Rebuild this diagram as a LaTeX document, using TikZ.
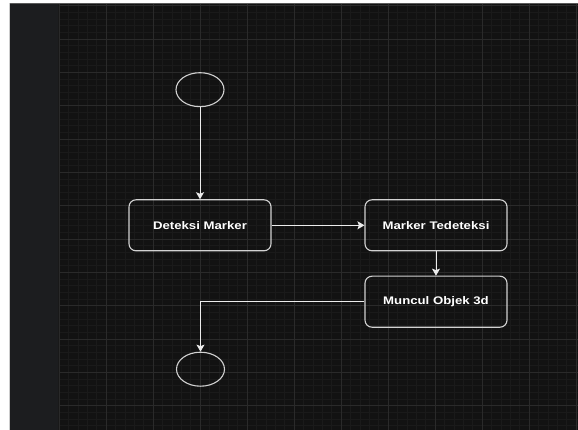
\documentclass[tikz,border=0pt]{standalone}
\usepackage{fontspec}
\setmainfont{Liberation Sans}
\usetikzlibrary{shapes.geometric,arrows.meta}
\definecolor{bgdark}{HTML}{121212}
\definecolor{panel}{HTML}{1C1D1F}
\definecolor{gridminor}{HTML}{1A1A1A}
\definecolor{gridmajor}{HTML}{2A2A2A}
\definecolor{nodeline}{HTML}{D2D2D2}
\definecolor{conn}{HTML}{ECECEC}
\definecolor{topline}{HTML}{5A5A5A}
\tikzset{
  box/.style={draw=nodeline, line width=1.1pt, rounded corners=7pt,
    minimum width=142pt, minimum height=51pt, inner sep=0pt,
    text=white, font=\fontsize{11}{13}\selectfont\bfseries},
  endpt/.style={draw=nodeline, line width=1.1pt, ellipse,
    minimum width=48pt, minimum height=34pt, inner sep=0pt},
  arr/.style={draw=conn, line width=0.9pt,
    -{Stealth[length=7pt,width=8pt,inset=1.5pt,fill=conn]}},
}
\newcommand{\wtxt}[1]{\scalebox{1.2}[1]{#1}}
\begin{document}
\begin{tikzpicture}[x=1pt,y=-1pt]
\useasboundingbox (0,0) rectangle (578,430);
\fill[white] (0,0) rectangle (578,430);
\fill[bgdark] (9.3,3.3) rectangle (578,430);
% minor grid
\foreach \i in {0,...,55} {
  \draw[gridminor, line width=0.6pt] ({59+9.4*\i},3.3) -- ({59+9.4*\i},430);
}
\foreach \j in {0,...,64} {
  \draw[gridminor, line width=0.6pt] (58.3,{5.67+6.6667*\j}) -- (578,{5.67+6.6667*\j});
}
% major grid
\foreach \i in {0,...,11} {
  \draw[gridmajor, line width=0.8pt] ({59+47*\i},3.3) -- ({59+47*\i},430);
}
\foreach \j in {0,...,12} {
  \draw[gridmajor, line width=0.8pt] (58.3,{5.67+33.333*\j}) -- (578,{5.67+33.333*\j});
}
% left panel
\fill[panel] (9.3,3.3) rectangle (57.8,430);
\draw[black!90, line width=1pt] (58.2,3.3) -- (58.2,430);
\draw[topline, line width=1pt] (9.3,3.8) -- (578,3.8);
\draw[black!20, line width=0.6pt] (9.6,3.3) -- (9.6,430);
% nodes
\node[endpt] (s) at (200,89.7) {};
\node[box] (dm) at (200,225.3) {\wtxt{Deteksi Marker}};
\node[box] (mt) at (436,225.3) {\wtxt{Marker Tedeteksi}};
\node[box] (mo) at (436,301.7) {\wtxt{Muncul Objek 3d}};
\node[endpt] (e) at (200.5,369.2) {};
% connectors
\draw[arr] (s) -- (dm);
\draw[arr] (dm) -- (mt);
\draw[arr] (mt) -- (mo);
\draw[arr] (mo.west) -| (e.north);
\end{tikzpicture}
\end{document}
